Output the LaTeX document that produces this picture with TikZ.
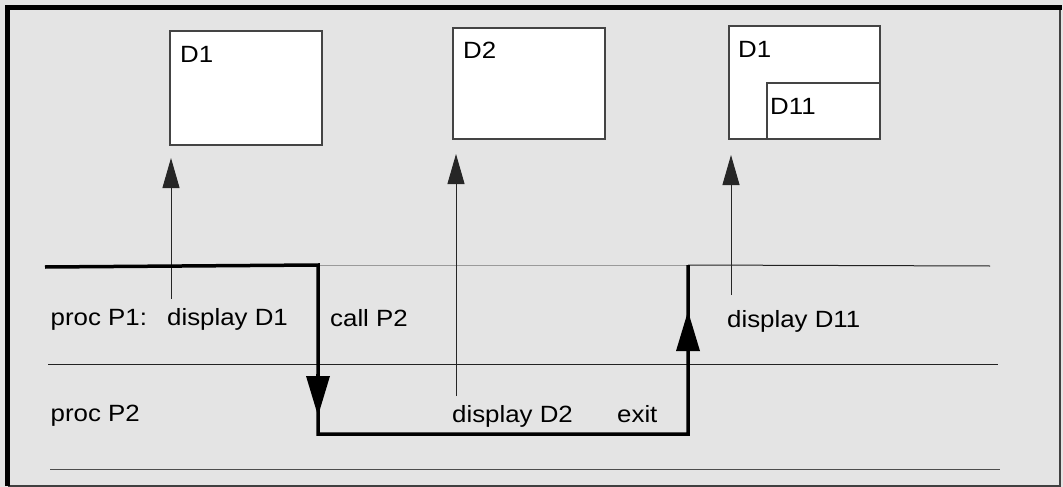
\documentclass[tikz,border=0pt]{standalone}
\usepackage{fontspec}
\setmainfont[FakeStretch=1.1]{Liberation Sans}
\usetikzlibrary{arrows.meta}
\definecolor{bg}{HTML}{E4E4E4}
\definecolor{boxline}{HTML}{444444}
\definecolor{lane}{HTML}{222222}
\definecolor{lanelight}{HTML}{9A9A9A}
\tikzset{
  lbl/.style={inner sep=0pt, anchor=base west, font=\fontsize{23.5}{28}\selectfont},
  dispbox/.style={draw=boxline, line width=1.2pt, fill=white},
  thinarrow/.style={draw=black!85, line width=1pt, -{Triangle[width=17pt,length=30pt]}},
  flow/.style={draw=black, line width=3.5pt},
  flowtip/.style={draw=black, line width=3.5pt, -{Triangle[width=23pt,length=40pt]}},
  laneline/.style={draw=lane, line width=1pt},
}
\begin{document}
\begin{tikzpicture}[x=1pt,y=-1pt]
\useasboundingbox (0,0) rectangle (1063,487);
\fill[bg] (0,0) rectangle (1063,487);
% frame
\draw[black!75, line width=1.5pt] (1060,7.5) -- (1060,486) -- (7.5,486);
\draw[black, line width=5pt] (7.5,486) -- (7.5,7.5) -- (1062,7.5);

% display boxes
\draw[dispbox] (170,31) rectangle (322,145);
\coordinate (b1) at (171,145);
\draw[dispbox] (453,28) rectangle (605,139);
\coordinate (b2) at (456,139);
\draw[dispbox] (729,26) rectangle (880,139);
\draw[dispbox] (767,83) rectangle (880,139);
\coordinate (b3) at (731,139);
\node[lbl] (d1a) at (180,63) {D1};
\node[lbl] (d2) at (463,59) {D2};
\node[lbl] (d1b) at (738,58) {D1};
\node[lbl] (d11) at (770,114) {D11};

% lanes
\coordinate (la0) at (318,265);
\coordinate (la1) at (688,265);
\coordinate (la2) at (990,266);
\draw[lanelight, line width=1pt] (la0) -- (la1);
\draw[laneline] (la1) -- (la2);
\coordinate (lb0) at (48,364);
\coordinate (lb1) at (998,364);
\draw[laneline] (lb0) -- (lb1);
\coordinate (lc0) at (50,469);
\coordinate (lc1) at (1000,469);
\draw[laneline, draw=black!70] (lc0) -- (lc1);

% labels
\node[lbl] (p1) at (50.5,325) {proc P1:};
\node[lbl] (dd1) at (167,325) {display D1};
\node[lbl] (call) at (330,326) {call P2};
\node[lbl] (dd11) at (727,327) {display D11};
\node[lbl] (p2) at (50.5,421) {proc P2};
\node[lbl] (dd2) at (452,422) {display D2};
\node[lbl] (exit) at (617,422) {exit};

% thin arrows to displays
\coordinate (a1s) at (171,299);
\coordinate (a1e) at (171,158);
\draw[thinarrow] (a1s) -- (a1e);
\coordinate (a2s) at (456,396);
\coordinate (a2e) at (456,154);
\draw[thinarrow] (a2s) -- (a2e);
\coordinate (a3s) at (731,295);
\coordinate (a3e) at (731,155);
\draw[thinarrow] (a3s) -- (a3e);

% control flow
\coordinate (f0) at (45,267);
\coordinate (f1) at (318,265);
\coordinate (f2) at (318,434);
\coordinate (f3) at (688,434);
\coordinate (f4) at (688,265);
\draw[flow, line join=miter] (f0) -- (f1) -- (f2) -- (f3) -- (f4);
\coordinate (t1s) at (318,374);
\coordinate (t1e) at (318,416);
\draw[flowtip] (t1s) -- (t1e);
\coordinate (t2s) at (688,350);
\coordinate (t2e) at (688,311);
\draw[flowtip] (t2s) -- (t2e);
\end{tikzpicture}
\end{document}
